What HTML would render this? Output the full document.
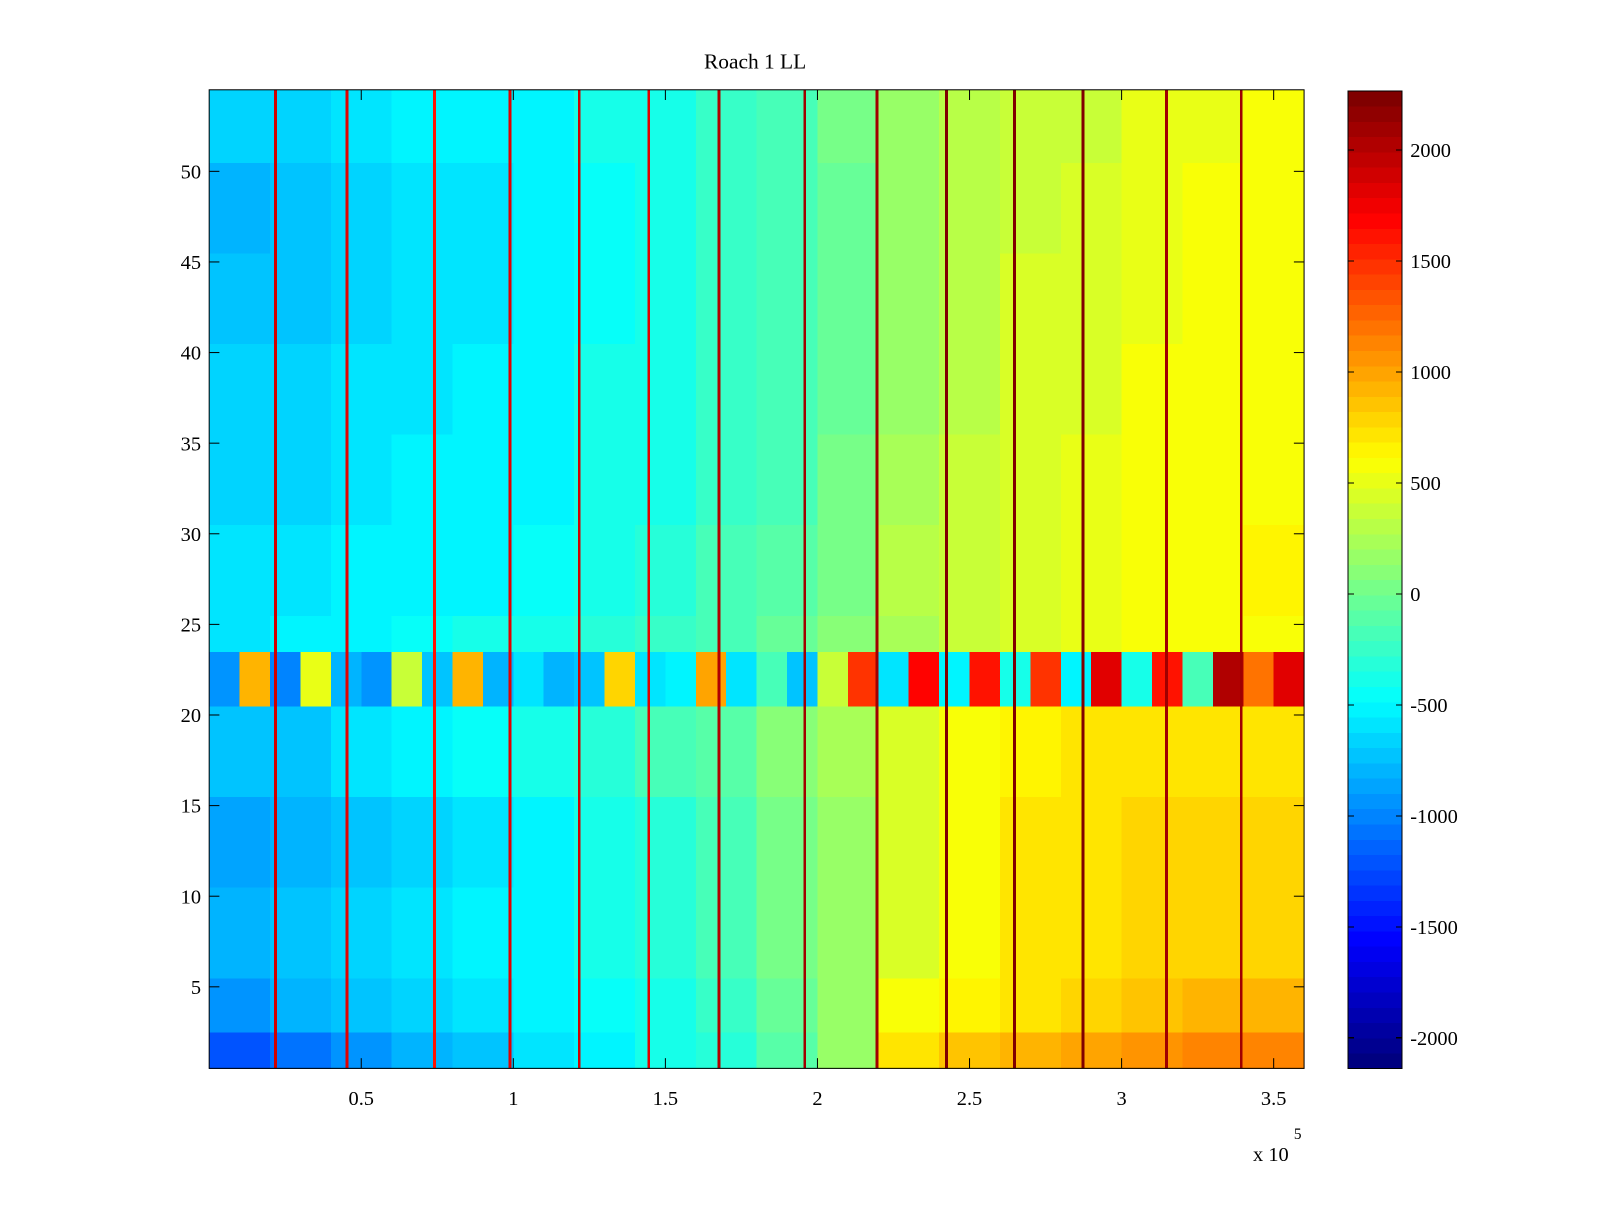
<!DOCTYPE html>
<html><head><meta charset="utf-8"><style>
html,body{margin:0;padding:0;background:#fff;}
svg text{font-family:"Liberation Serif",serif;fill:#000;}
</style></head><body>
<svg id="chart" width="1600" height="1200" xmlns="http://www.w3.org/2000/svg">
<g transform="scale(1.020408)">
<text x="740" y="67" font-size="21" text-anchor="middle">Roach 1 LL</text>
<g id="cells" shape-rendering="crispEdges"></g>
<g id="axes"></g>
<g id="cbar" shape-rendering="crispEdges"></g>
<text x="1228" y="1138" font-size="20">x 10</text>
<text x="1268" y="1116" font-size="15">5</text>
</g>
</svg>
<script>
// ---- data ----
const rowEdges=[0.5,2.5,5.5,10.5,15.5,20.5,23.5,25.5,30.5,35.5,40.5,45.5,50.5,54.5];
const colWidth=20000;
const bandValues=[
[-1200,-1100,-900,-800,-700,-600,-500,-400,-300,-100,150,750,850,950,1000,1050,1100,1100],
[-900,-800,-700,-650,-600,-550,-450,-350,-250,-50,150,550,650,750,800,850,900,900],
[-800,-750,-650,-600,-550,-500,-400,-300,-150,0,200,450,600,700,750,800,800,800],
[-850,-800,-700,-650,-600,-500,-400,-300,-150,0,200,450,600,700,750,800,800,800],
[-750,-700,-600,-550,-450,-400,-300,-200,-100,100,250,450,550,650,700,700,700,700],
null,
[-600,-550,-500,-450,-400,-350,-300,-250,-150,-50,100,250,350,450,500,550,600,600],
[-600,-600,-550,-550,-500,-450,-350,-300,-200,-100,50,300,400,450,500,550,600,650],
[-650,-650,-600,-550,-550,-500,-400,-350,-250,-150,0,250,350,450,500,550,600,600],
[-650,-650,-600,-600,-550,-500,-400,-350,-250,-200,-50,200,300,450,450,550,550,600],
[-750,-700,-650,-600,-600,-550,-450,-350,-250,-200,-50,200,300,450,450,500,550,600],
[-800,-700,-650,-600,-600,-550,-450,-350,-250,-200,-50,200,300,400,450,500,550,600],
[-650,-650,-600,-550,-550,-500,-400,-350,-250,-150,0,200,300,400,400,500,500,550]
];
const specialWidth=10000;
const specialValues=[-900,900,-1000,500,-800,-900,400,-700,900,-800,-600,-800,-700,800,-600,-500,1000,-600,-200,-700,400,1500,-600,1700,-500,1600,-400,1500,-500,1800,-400,1600,-200,2000,1200,1800];
const streakX=[21800,45300,74100,98900,121700,144500,167600,195800,219600,242400,264800,287300,314800,339300];
const streakValue=[1900,1800,1600,1800,1900,1800,2000,2100,2100,2200,2200,2200,2100,2100];
const streakWidth=900;
const xTicks=[0.5,1,1.5,2,2.5,3,3.5];
const yTicks=[5,10,15,20,25,30,35,40,45,50];
const cTicks=[2000,1500,1000,500,0,-500,-1000,-1500,-2000];
// ---- scales ----
const X0=205,X1=1278,Y0=88,Y1=1047;
const xMin=0,xMax=360000,yMin=0.5,yMax=54.5;
const cMin=-2138,cMax=2267;
const sx=v=>X0+(v-xMin)/(xMax-xMin)*(X1-X0);
const sy=v=>Y1-(v-yMin)/(yMax-yMin)*(Y1-Y0);
function jet(v){let t=(v-cMin)/(cMax-cMin);t=Math.max(0,Math.min(1,t));t=Math.floor(t*63.999)/63;
 const c=x=>Math.round(255*Math.max(0,Math.min(1,x)));
 return `rgb(${c(1.5-Math.abs(4*t-3))},${c(1.5-Math.abs(4*t-2))},${c(1.5-Math.abs(4*t-1))})`;}
const NS="http://www.w3.org/2000/svg";
function mk(tag,attrs,parent){const e=document.createElementNS(NS,tag);for(const k in attrs)e.setAttribute(k,attrs[k]);parent.appendChild(e);return e;}
const cells=document.getElementById('cells');
bandValues.forEach((row,i)=>{
 const ya=sy(rowEdges[i+1]),yb=sy(rowEdges[i]);
 if(row===null){
  specialValues.forEach((v,j)=>{
   const r=mk('rect',{x:sx(j*specialWidth),y:ya,width:sx((j+1)*specialWidth)-sx(j*specialWidth)+0.5,height:yb-ya+0.5,fill:jet(v)},cells);
   
   
  });
  return;
 }
 row.forEach((v,j)=>{
  const r=mk('rect',{x:sx(j*colWidth),y:ya,width:sx((j+1)*colWidth)-sx(j*colWidth)+0.5,height:yb-ya+0.5,fill:jet(v)},cells);
  
  
 });
});
streakX.forEach((x,i)=>{
 const r=mk('rect',{x:sx(x-streakWidth/2),y:Y0,width:Math.max(2,sx(x+streakWidth/2)-sx(x-streakWidth/2)),height:Y1-Y0,fill:jet(streakValue[i])},cells);
 
 
});
// axes
const ax=document.getElementById('axes');
const fr=mk('rect',{x:X0,y:Y0,width:X1-X0,height:Y1-Y0,fill:'none',stroke:'#000','stroke-width':1},ax);


xTicks.forEach(t=>{const x=sx(t*1e5);
 mk('line',{x1:x,x2:x,y1:Y1,y2:Y1-10,stroke:'#000'},ax);mk('line',{x1:x,x2:x,y1:Y0,y2:Y0+10,stroke:'#000'},ax);
 const tx=mk('text',{x:x,y:Y1+36,'font-size':20,'text-anchor':'middle'},ax);tx.textContent=t;
 
 
});
yTicks.forEach(t=>{const y=sy(t);
 mk('line',{x1:X0,x2:X0+10,y1:y,y2:y,stroke:'#000'},ax);mk('line',{x1:X1,x2:X1-10,y1:y,y2:y,stroke:'#000'},ax);
 const tx=mk('text',{x:X0-8,y:y+7,'font-size':20,'text-anchor':'end'},ax);tx.textContent=t;
 
 
});
// colorbar
const cb=document.getElementById('cbar');
const CX0=1321,CX1=1374,CY0=89,CY1=1047;
const cy=v=>CY1-(v-cMin)/(cMax-cMin)*(CY1-CY0);
for(let k=0;k<64;k++){const v0=cMin+k*(cMax-cMin)/64,v1=cMin+(k+1)*(cMax-cMin)/64;
 const r=mk('rect',{x:CX0,y:cy(v1),width:CX1-CX0,height:cy(v0)-cy(v1)+0.5,fill:jet((v0+v1)/2)},cb);
 
 
}
mk('rect',{x:CX0,y:CY0,width:CX1-CX0,height:CY1-CY0,fill:'none',stroke:'#000'},cb);
cTicks.forEach(t=>{const y=cy(t);
 mk('line',{x1:CX0,x2:CX0+6,y1:y,y2:y,stroke:'#000'},cb);mk('line',{x1:CX1,x2:CX1-6,y1:y,y2:y,stroke:'#000'},cb);
 const tx=mk('text',{x:CX1+8,y:y+7,'font-size':20},cb);tx.textContent=t;
 
 
});
</script>
</body></html>
